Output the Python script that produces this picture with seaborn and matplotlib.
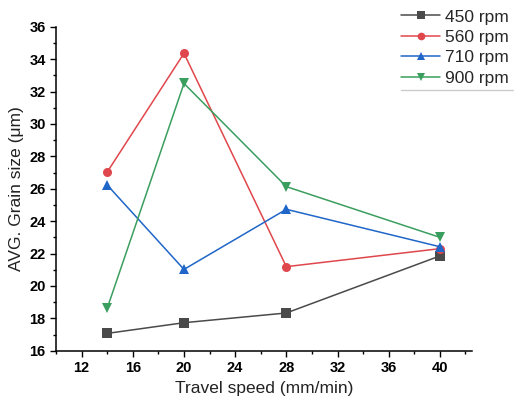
import matplotlib
matplotlib.use("Agg")
import matplotlib.pyplot as plt
import seaborn as sns
import pandas as pd
from matplotlib.ticker import MultipleLocator

speeds = [14, 20, 28, 40]
rpm_450 = [17.07, 17.73, 18.33, 21.85]
rpm_560 = [27.03, 34.36, 21.19, 22.30]
rpm_710 = [26.23, 21.02, 24.73, 22.42]
rpm_900 = [18.62, 32.50, 26.13, 23.00]
series_labels = ["450 rpm", "560 rpm", "710 rpm", "900 rpm"]

sns.set_style("ticks")
plt.rcParams['font.family'] = ['Liberation Sans', 'DejaVu Sans']

rows = []
for lab, vals in zip(series_labels, [rpm_450, rpm_560, rpm_710, rpm_900]):
    for s, v in zip(speeds, vals):
        rows.append({"speed": s, "size": v, "series": lab})
df = pd.DataFrame(rows)

colors = ["#4a4a4a", "#e0474c", "#2066c8", "#3a9e5e"]
markers = ["s", "o", "^", "v"]

fig = plt.figure(figsize=(5.14, 4.05), dpi=100)
ax = fig.add_axes([0.109, 0.134, 0.809, 0.800])

sns.lineplot(data=df, x="speed", y="size", hue="series", style="series",
             palette=colors, markers=markers, dashes=False, markersize=6.5,
             markeredgewidth=0, linewidth=1.1, ax=ax)

ax.set_xlim(10, 42.5)
ax.set_ylim(16, 36)
ax.xaxis.set_minor_locator(MultipleLocator(2))
ax.yaxis.set_major_locator(MultipleLocator(2))
ax.yaxis.set_minor_locator(MultipleLocator(1))
ax.set_xticks([12, 16, 20, 24, 28, 32, 36, 40])
ax.tick_params(which="major", direction="out", length=4, width=1, labelsize=10.5, colors="black")
ax.tick_params(which="minor", direction="out", length=2.5, width=1, colors="black")
for lbl in ax.get_xticklabels() + ax.get_yticklabels():
    lbl.set_fontweight("bold")
ax.spines["top"].set_visible(False)
ax.spines["right"].set_visible(False)
for sp in ["left", "bottom"]:
    ax.spines[sp].set_linewidth(1.1)
    ax.spines[sp].set_color("black")

ax.set_xlabel("Travel speed (mm/min)", fontsize=12.5, color="#222222")
ax.set_ylabel("AVG. Grain size (\u03bcm)", fontsize=12.5, color="#222222")

leg = ax.legend(loc="upper right", bbox_to_anchor=(1.105, 1.075), frameon=False,
                fontsize=12.5, handlelength=2.2, handletextpad=0.3, labelspacing=0.3,
                borderaxespad=0, markerscale=0.85)
fig.add_artist(plt.Line2D([0.78, 1.0], [0.778, 0.778], color="#cccccc", linewidth=1,
                          transform=fig.transFigure))

fig.savefig("out.png", dpi=100)
